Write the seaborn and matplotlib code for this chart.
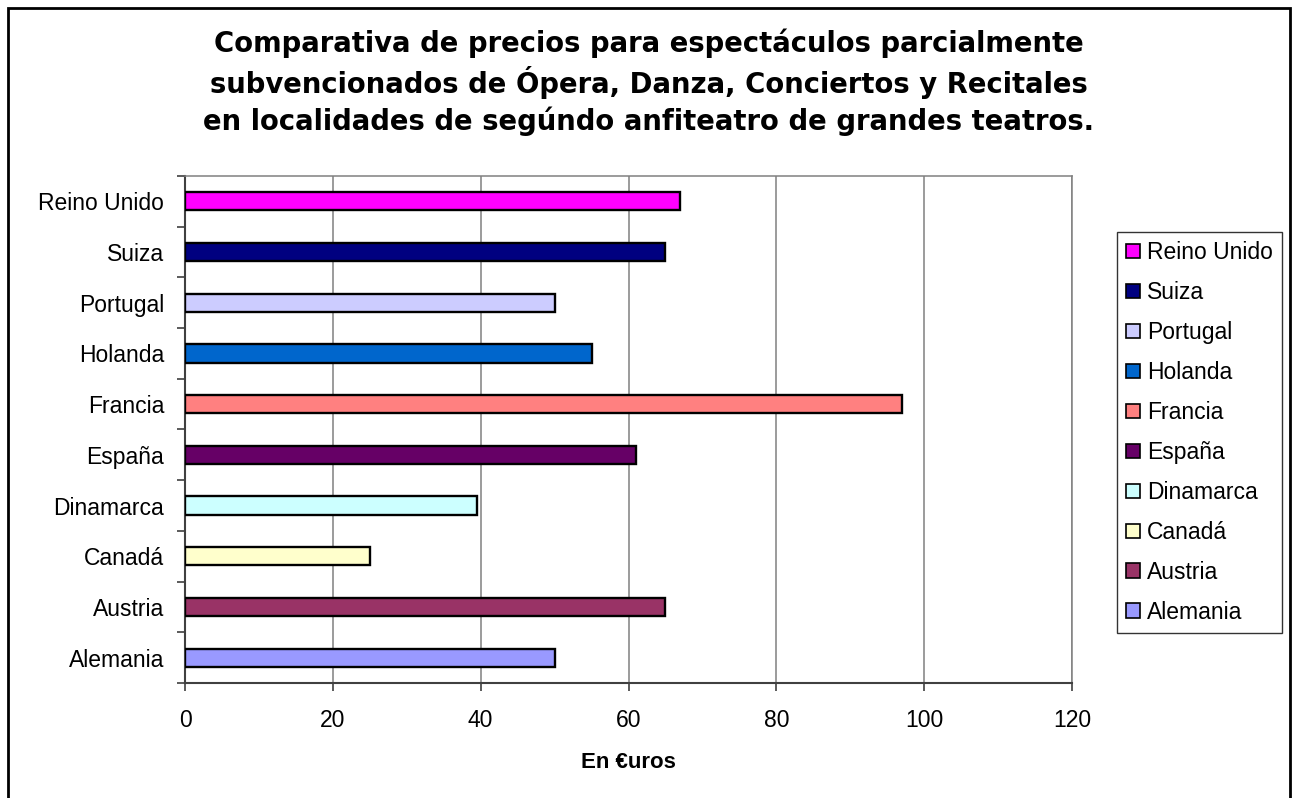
import matplotlib
matplotlib.use("Agg")
import matplotlib.pyplot as plt
from matplotlib.patches import Patch, Rectangle
import seaborn as sns
import pandas as pd

# data (top to bottom)
paises = ["Reino Unido", "Suiza", "Portugal", "Holanda", "Francia",
          "España", "Dinamarca", "Canadá", "Austria", "Alemania"]
precios = [67, 65, 50, 55, 97, 61, 39.5, 25, 65, 50]
colores = ["#FF00FF", "#000080", "#CCCCFF", "#0066CC", "#FF8080",
           "#660066", "#CCFFFF", "#FFFFCC", "#993366", "#9999FF"]
xticks = [0, 20, 40, 60, 80, 100, 120]

df = pd.DataFrame({"pais": paises, "precio": precios})

sns.set_style("white")
plt.rcParams["font.family"] = ["Liberation Sans", "DejaVu Sans"]
plt.rcParams["text.color"] = "black"
plt.rcParams["xtick.color"] = "black"
plt.rcParams["ytick.color"] = "black"
plt.rcParams["axes.labelcolor"] = "black"

fig = plt.figure(figsize=(12.97, 7.98), dpi=100)
ax = fig.add_axes([185/1297, 1-683/798, (1072-185)/1297, (683-176)/798])

sns.barplot(data=df, x="precio", y="pais", hue="pais", palette=colores,
            order=paises, hue_order=paises, orient="h", width=0.36,
            saturation=1, edgecolor="black", linewidth=1.7, legend=False,
            ax=ax, zorder=3)

ax.set_xlim(0, 120)
ax.set_xticks(xticks)
ax.set_ylim(9.5, -0.5)
ax.xaxis.grid(True, color="#808080", linewidth=1.1, zorder=0)
ax.set_axisbelow(True)

# ticks between categories on the y axis
ax.set_yticks([i - 0.5 for i in range(11)], minor=True)
ax.tick_params(axis="y", which="major", length=0, labelsize=16.5, pad=15)
ax.tick_params(axis="y", which="minor", length=6, width=1.2, color="#404040", left=True)
ax.tick_params(axis="x", length=6, width=1.2, color="#404040", labelsize=16.5, pad=13, bottom=True)

for s in ["top", "right"]:
    ax.spines[s].set_color("#808080")
    ax.spines[s].set_linewidth(1.1)
for s in ["left", "bottom"]:
    ax.spines[s].set_color("#404040")
    ax.spines[s].set_linewidth(1.5)

ax.set_ylabel("")
ax.set_xlabel("En €uros", fontsize=16, fontweight="bold", labelpad=14)

handles = [Patch(facecolor=c, edgecolor="black", linewidth=1.2, label=p)
           for p, c in zip(paises, colores)]
leg = fig.legend(handles=handles, loc="upper left", bbox_to_anchor=(1117/1297, 1-232/798),
                 frameon=True, fancybox=False, edgecolor="black", fontsize=16.5,
                 handlelength=0.6, handleheight=0.6, handletextpad=0.3,
                 labelspacing=0.74, borderpad=0.4, borderaxespad=0)
leg.get_frame().set_linewidth(1.0)

fig.text(0.5, 1-82/798,
         "Comparativa de precios para espectáculos parcialmente\n"
         "subvencionados de Ópera, Danza, Conciertos y Recitales\n"
         "en localidades de segúndo anfiteatro de grandes teatros.",
         ha="center", va="center", fontsize=19.8, fontweight="bold",
         family="DejaVu Sans", linespacing=1.3)

# outer chart border (bottom edge cut off in the picture)
fig.patches.append(Rectangle((8/1297, -0.05), 1282/1297, 1.05-8/798,
                             transform=fig.transFigure, fill=False,
                             edgecolor="black", linewidth=2))

fig.savefig("out.png", dpi=100, facecolor="white")
